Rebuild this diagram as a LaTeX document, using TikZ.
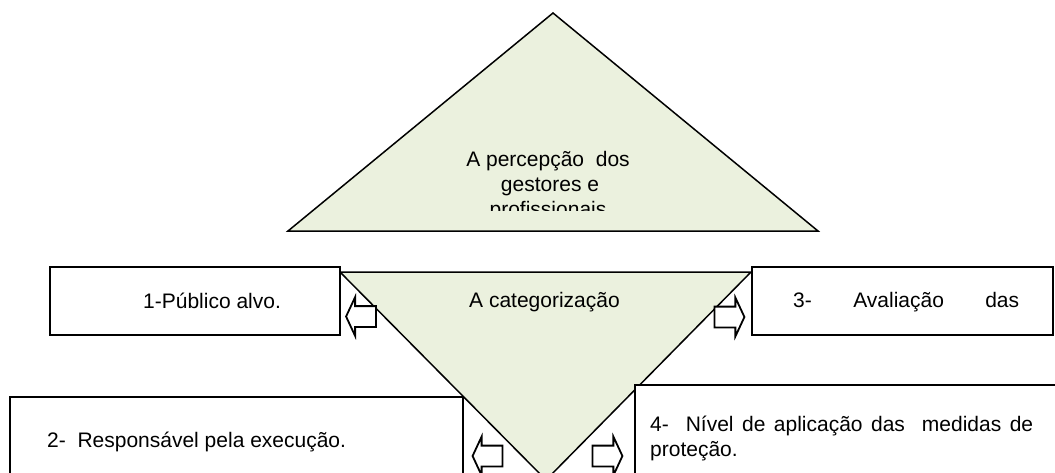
\documentclass[tikz,border=0pt]{standalone}
\usepackage{fontspec}
\setmainfont{Liberation Sans}
\usetikzlibrary{shapes.arrows}
\definecolor{palegreen}{HTML}{EBF1DE}

\tikzset{
  tri/.style={draw,line width=1.5pt,fill=palegreen},
  txtbox/.style={draw,line width=2pt,fill=white},
  lbl/.style={inner sep=0pt,font=\fontsize{21}{25}\selectfont},
  blockarr/.style={single arrow,draw,fill=white,line width=1.8pt,
    inner xsep=0pt,inner ysep=9.5pt,minimum height=30pt,
    single arrow head extend=9pt,single arrow tip angle=130}
}

\begin{document}
\begin{tikzpicture}[x=1pt,y=-1pt]
      \useasboundingbox (0,0) rectangle (1055,472);
      \clip (0,0) rectangle (1055,472);

      % the two triangles
      \draw[tri] (553,13) -- (818,231) -- (288,231) -- cycle;
      \draw[tri] (340,272) -- (751,272) -- (546,480) -- cycle;

      \begin{scope}
        \clip (420,140) rectangle (680,210);
        \node[lbl,anchor=base] (top1) at (548,166) {A percepção\ \ dos};
        \node[lbl,anchor=base] (top2) at (550,191) {gestores e};
        \node[lbl,anchor=base] (top3) at (548,216) {profissionais};
      \end{scope}
      \node[lbl,anchor=base west] (categ) at (469,307) {A categorização};

      % the four boxes
      \draw[txtbox] (50,267) rectangle (340,335);
      \draw[txtbox] (752,267) rectangle (1053,335);
      \draw[txtbox] (10,397) rectangle (463,490);
      \draw[txtbox] (635,385) rectangle (1070,490);

      \node[lbl,anchor=base west] (publico) at (143,308) {1-Público alvo.};
      \node[lbl,anchor=base west,text width=226pt] (avalia) at (793,307)
        {3-\hfill Avaliação\hfill das};
      \node[lbl,anchor=base west] (respons) at (47,447) {2-\ \ Responsável pela execução.};
      \node[lbl,anchor=base west,text width=383pt,align=justify] (nivel) at (650,431)
        {4-\ \ Nível de aplicação das\ \ medidas de\linebreak proteção.};

      % the block arrows
      \node[blockarr,shape border rotate=180] (arr1) at (363.5,316.5) {};
      \node[blockarr] (arr3) at (727,317) {};
      \node[blockarr,shape border rotate=180] (arr2) at (490,456) {};
      \node[blockarr] (arr4) at (605,456) {};
    \end{tikzpicture}
\end{document}
